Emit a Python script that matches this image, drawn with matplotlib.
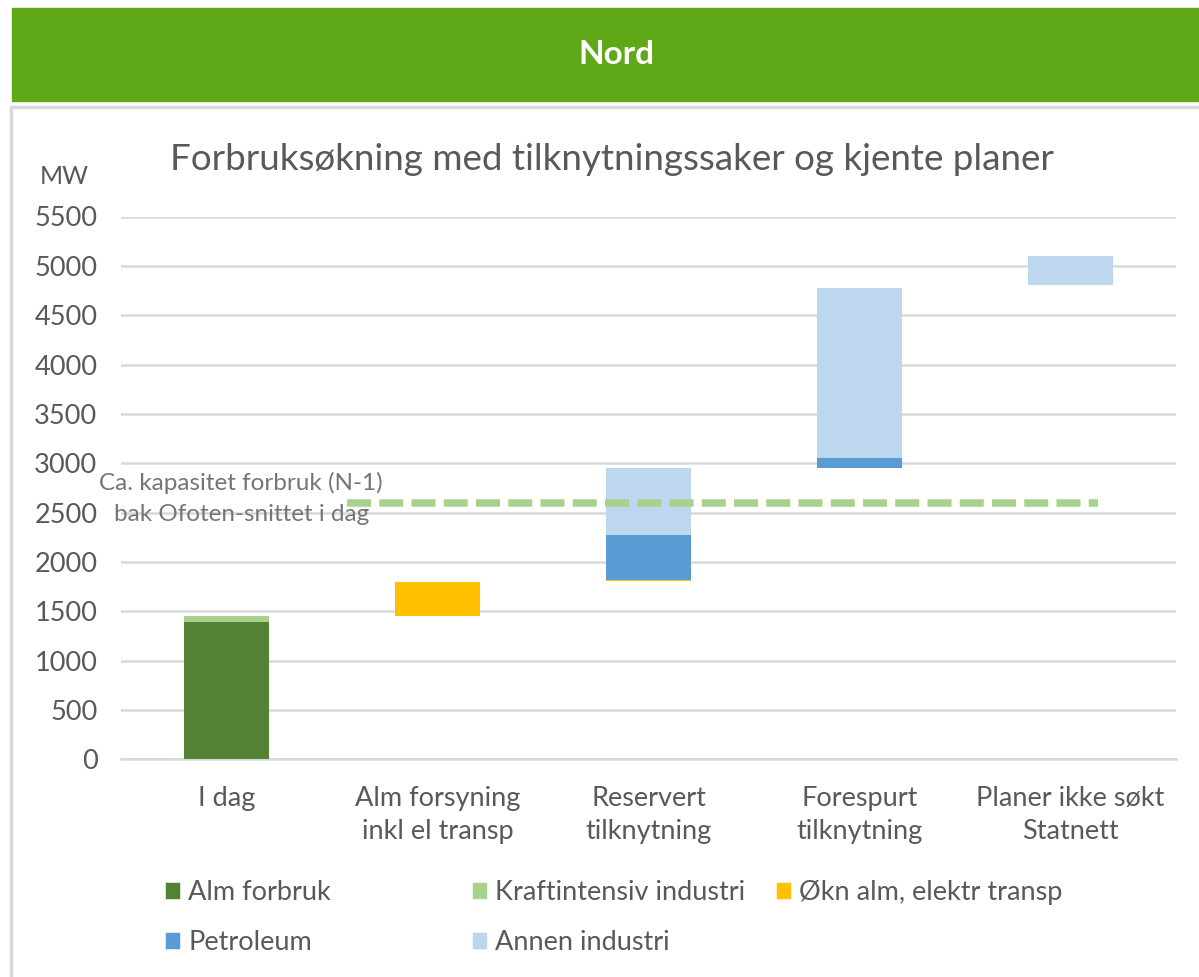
import matplotlib.pyplot as plt
from matplotlib.patches import Rectangle, Patch

plt.rcParams['font.family'] = ['Lato', 'DejaVu Sans']

# Data (MW)
categories = ['I dag', 'Alm forsyning\ninkl el transp', 'Reservert\ntilknytning',
              'Forespurt\ntilknytning', 'Planer ikke søkt\nStatnett']
base = [0, 1455, 1805, 2950, 4805]
alm_forbruk = [1390, 0, 0, 0, 0]
kraftintensiv = [65, 0, 0, 0, 0]
okn_alm = [0, 345, 12, 0, 0]
petroleum = [0, 0, 460, 105, 0]
annen_industri = [0, 0, 673, 1718, 292]
kapasitet = 2600
kapasitet_x = [0.57, 4.13]
y_ticks = list(range(0, 5501, 500))

series = [
    ('Alm forbruk', alm_forbruk, '#548235'),
    ('Kraftintensiv industri', kraftintensiv, '#A9D18E'),
    ('Økn alm, elektr transp', okn_alm, '#FFC000'),
    ('Petroleum', petroleum, '#5B9BD5'),
    ('Annen industri', annen_industri, '#BDD7EE'),
]

text_color = '#595959'
grid_color = '#D9D9D9'
fs = 19.5

fig = plt.figure(figsize=(11.99, 9.77), dpi=100)

# Green header band
fig.patches.append(Rectangle((12 / 1199, 1 - 101 / 977), 1 - 12 / 1199, 93 / 977,
                             transform=fig.transFigure, color='#5FA918', zorder=0))
fig.text(616 / 1199, 1 - 55 / 977, 'Nord', color='white', fontsize=24,
         fontweight='bold', ha='center', va='center')

# Light gray frame around the chart
fig.patches.append(Rectangle((11 / 1199, -0.05), 1.1, 1 - 107 / 977 + 0.05,
                             transform=fig.transFigure, fill=False,
                             edgecolor='#D9D9D9', linewidth=2.5, zorder=0))

ax = fig.add_axes([121 / 1199, 1 - 759.3 / 977, 1055 / 1199, 542.8 / 977])

x = list(range(len(categories)))
bottom = list(base)
for name, vals, color in series:
    ax.bar(x, vals, width=0.4, bottom=bottom, color=color, label=name,
           linewidth=0, zorder=3)
    bottom = [b + v for b, v in zip(bottom, vals)]

ax.plot(kapasitet_x, [kapasitet, kapasitet], color='#A9D18E', linewidth=5.4,
        dashes=(3.2, 1.1), solid_capstyle='butt', dash_capstyle='butt', zorder=4)
ax.text(0.07, kapasitet + 40, 'Ca. kapasitet forbruk (N-1)\nbak Ofoten-snittet i dag',
        ha='center', va='center', fontsize=17.5, color='#757575', linespacing=1.6,
        zorder=5)

ax.set_xlim(-0.5, 4.5)
ax.set_ylim(0, 5500)
ax.set_yticks(y_ticks)
ax.set_xticks(x)
ax.set_xticklabels(categories, fontsize=fs, color=text_color, linespacing=1.4)
ax.tick_params(axis='y', labelsize=fs, labelcolor=text_color, length=0, pad=17)
ax.tick_params(axis='x', length=0, pad=19)
ax.yaxis.grid(True, color=grid_color, linewidth=1.8, zorder=0)
ax.set_axisbelow(True)
for side in ['left', 'right', 'top']:
    ax.spines[side].set_visible(False)
ax.spines['bottom'].set_color(grid_color)
ax.spines['bottom'].set_linewidth(1.8)

fig.text(64 / 1199, 1 - 176 / 977, 'MW', fontsize=18, color=text_color,
         ha='center', va='center')
fig.text(612 / 1199, 1 - 159 / 977, 'Forbruksøkning med tilknytningssaker og kjente planer',
         fontsize=26.5, color=text_color, ha='center', va='center')

# Legend: three columns laid out like the original
columns = [[series[0], series[3]], [series[1], series[4]], [series[2]]]
col_x = [165, 472, 776]
for cx, items in zip(col_x, columns):
    handles = [Patch(facecolor=c, edgecolor='white', linewidth=0.4) for _, _, c in items]
    labels = [n for n, _, _ in items]
    fig.legend(handles, labels, loc='upper left',
               bbox_to_anchor=(cx / 1199, 1 - 880 / 977), frameon=False,
               fontsize=fs, labelcolor=text_color, handlelength=0.55,
               handleheight=0.55, handletextpad=0.3, labelspacing=0.93,
               borderaxespad=0, borderpad=0)

fig.savefig('out.png', dpi=100)
